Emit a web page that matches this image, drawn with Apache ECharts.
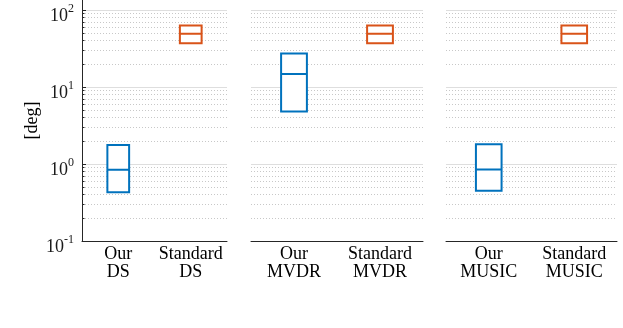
<!DOCTYPE html>
<html><head><meta charset="utf-8">
<script src="https://cdn.jsdelivr.net/npm/echarts@6/dist/echarts.min.js"></script>
<style>html,body{margin:0;padding:0;background:#fff}#c{width:623px;height:328px}</style>
</head><body><div id="c"></div>
<script>
// ---- data ----
const methods = ['DS', 'MVDR', 'MUSIC'];
const groupLabels = ['Our', 'Standard'];
// box statistics: [Q1, median, Q3] in degrees
const ourDS = [0.43, 0.84, 1.77];
const standardDS = [36.9, 49.1, 62.8];
const ourMVDR = [4.8, 14.8, 27.2];
const standardMVDR = [36.9, 49.1, 62.8];
const ourMUSIC = [0.45, 0.85, 1.8];
const standardMUSIC = [36.9, 49.1, 62.8];
const yAxisName = '[deg]';
const yMin = 0.1, yMax = 135;
const majorGrid = [1, 10, 100];
const minorGrid = [0.2, 0.3, 0.4, 0.5, 0.6, 0.7, 0.8, 0.9,
                   2, 3, 4, 5, 6, 7, 8, 9,
                   20, 30, 40, 50, 60, 70, 80, 90];

// ---- style ----
const FONT = '"Liberation Serif", "DejaVu Serif", serif';
const BLUE = '#0072BD', ORANGE = '#D95319';
const AXIS = '#262626';
const panels = [
  { our: ourDS, std: standardDS, grid: { left: 82, width: 145 } },
  { our: ourMVDR, std: standardMVDR, grid: { left: 251, width: 172 } },
  { our: ourMUSIC, std: standardMUSIC, grid: { left: 446, width: 171 } }
];
function box(s) { return [s[0], s[0], s[1], s[2], s[2]]; }
function tickFmt(v) {
  const e = Math.round(Math.log10(v));
  if (Math.abs(Math.log10(v) - e) > 1e-6) return '';
  return '{b|10}{s|' + e + '}';
}

const xAxes = panels.map((p, i) => ({
  type: 'category', gridIndex: i,
  data: groupLabels.map(g => g + '\n' + methods[i]),
  axisLine: { show: true, onZero: false, lineStyle: { color: AXIS, width: 1 } },
  axisTick: { show: false },
  splitLine: { show: false },
  axisLabel: { fontFamily: FONT, fontSize: 18, color: '#000', lineHeight: 18, margin: 4, interval: 0 }
}));
// hidden helper axis in the first panel, used to place the small inward ticks of the y axis
xAxes.push({ type: 'value', gridIndex: 0, min: 0, max: 145, show: false });

const series = panels.map((p, i) => ({
  type: 'boxplot', xAxisIndex: i, yAxisIndex: i, z: 3,
  boxWidth: ['30%', '30%'],
  itemStyle: { color: '#fff', borderWidth: 2 },
  emphasis: { disabled: true },
  data: [
    { value: box(p.our), itemStyle: { borderColor: BLUE } },
    { value: box(p.std), itemStyle: { borderColor: ORANGE } }
  ],
  markLine: {
    silent: true, z: 1, animation: false, symbol: ['none', 'none'],
    label: { show: false },
    emphasis: { disabled: true },
    data: majorGrid.map(v => ({ yAxis: v, lineStyle: { type: 'solid', color: '#dedede', width: 1 } }))
      .concat(minorGrid.map(v => ({ yAxis: v, lineStyle: { type: [1, 2], color: '#c8c8c8', width: 1 } })))
  }
}));
series.push({
  type: 'line', xAxisIndex: 3, yAxisIndex: 0, data: [], silent: true,
  markLine: {
    silent: true, z: 4, animation: false, symbol: ['none', 'none'],
    label: { show: false }, emphasis: { disabled: true },
    lineStyle: { type: 'solid', color: AXIS, width: 1 },
    data: majorGrid.map(v => [{ coord: [0, v] }, { coord: [4, v] }])
      .concat(minorGrid.map(v => [{ coord: [0, v] }, { coord: [2.5, v] }]))
  }
});

const option = {
  animation: false,
  backgroundColor: '#fff',
  grid: panels.map(p => ({ left: p.grid.left, width: p.grid.width, top: 0, bottom: 87 })),
  xAxis: xAxes,
  yAxis: panels.map((p, i) => ({
    type: 'log', gridIndex: i, logBase: 10, min: yMin, max: yMax,
    name: i === 0 ? yAxisName : '',
    nameLocation: 'middle', nameGap: 41,
    nameTextStyle: { fontFamily: FONT, fontSize: 18, color: '#000' },
    axisLine: { show: i === 0, onZero: false, lineStyle: { color: AXIS, width: 1 } },
    axisTick: { show: false },
    splitLine: { show: false },
    axisLabel: {
      show: i === 0, margin: 8, formatter: tickFmt, padding: [8, 0, 0, 0],
      rich: {
        b: { fontFamily: FONT, fontSize: 18, color: '#1a1a1a', lineHeight: 22, verticalAlign: 'bottom' },
        s: { fontFamily: FONT, fontSize: 12, color: '#1a1a1a', lineHeight: 12, verticalAlign: 'top' }
      }
    }
  })),
  series: series
};
const chart = echarts.init(document.getElementById('c'), null, { renderer: 'canvas' });
chart.setOption(option);
</script>
</body></html>
